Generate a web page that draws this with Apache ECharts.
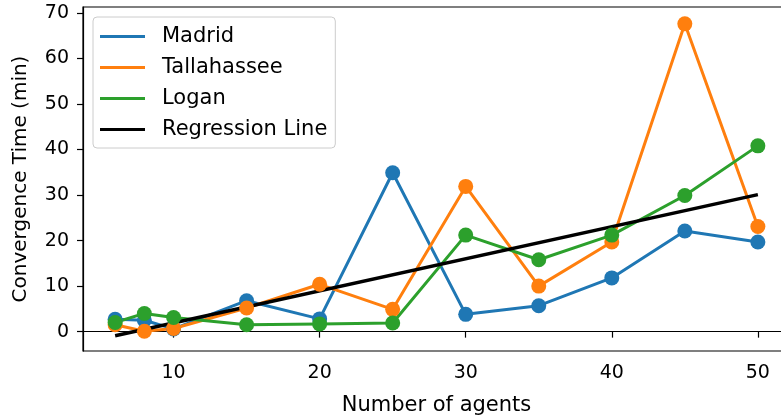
<!DOCTYPE html>
<html>
<head>
<meta charset="utf-8">
<script src="https://cdn.jsdelivr.net/npm/echarts@6/dist/echarts.min.js"></script>
<style>html,body{margin:0;padding:0;background:#fff;}#c{width:781px;height:418px;}</style>
</head>
<body>
<div id="c"></div>
<script>
const agents = [6, 8, 10, 15, 20, 25, 30, 35, 40, 45, 50];
const madrid = [2.7, 2.5, 0.6, 6.8, 2.8, 34.9, 3.8, 5.7, 11.8, 22.1, 19.7];
const tallahassee = [1.5, 0.1, 0.7, 5.2, 10.4, 4.9, 31.9, 10.0, 19.7, 67.6, 23.1];
const logan = [2.0, 4.0, 3.1, 1.5, 1.7, 1.9, 21.2, 15.8, 21.2, 29.9, 40.8];
const regX = [6, 50];
const regY = [-0.9, 30.1];
const xTicks = [10, 20, 30, 40, 50];
const yTicks = [0, 10, 20, 30, 40, 50, 60, 70];

const font = 'DejaVu Sans';
const pairs = (xs, ys) => xs.map((x, i) => [x, ys[i]]);
const lineSeries = (name, ys, color) => ({
  name, type: 'line', data: pairs(agents, ys), symbol: 'circle', symbolSize: 15,
  lineStyle: { color, width: 3 }, itemStyle: { color }, emphasis: { disabled: true }
});

const chart = echarts.init(document.getElementById('c'), null, { renderer: 'canvas' });
chart.setOption({
  animation: false,
  backgroundColor: '#fff',
  grid: { left: 83, top: 7, right: -9, bottom: 67, outerBoundsMode: 'none', containLabel: false,
          show: true, borderColor: '#000', borderWidth: 1.2, backgroundColor: 'transparent' },
  legend: {
    orient: 'vertical', left: 93, top: 17,
    borderColor: '#cccccc', borderWidth: 1, borderRadius: 4,
    padding: [9, 8, 8, 7], itemWidth: 45, itemHeight: 3, itemGap: 10,
    backgroundColor: 'rgba(255,255,255,0.8)',
    textStyle: { fontFamily: font, fontSize: 21, color: '#000', padding: [0, 0, 0, 12], lineHeight: 21 },
    data: [
      { name: 'Madrid', icon: 'rect' },
      { name: 'Tallahassee', icon: 'rect' },
      { name: 'Logan', icon: 'rect' },
      { name: 'Regression Line', icon: 'rect' }
    ]
  },
  xAxis: {
    type: 'value', min: 3.8, max: 52.2,
    name: 'Number of agents', nameLocation: 'middle', nameGap: 44,
    nameTextStyle: { fontFamily: font, fontSize: 21, color: '#000' },
    axisLine: { show: true, lineStyle: { color: '#000', width: 1.2 } },
    axisTick: { show: true, length: 6, lineStyle: { color: '#000', width: 1.2 }, customValues: xTicks },
    axisLabel: { fontFamily: font, fontSize: 19, color: '#000', margin: 13, customValues: xTicks },
    splitLine: { show: false }
  },
  yAxis: {
    type: 'value', min: -4.25, max: 71.3,
    name: 'Convergence Time (min)', nameLocation: 'middle', nameGap: 52,
    nameTextStyle: { fontFamily: font, fontSize: 20, color: '#000' },
    axisLine: { show: true, lineStyle: { color: '#000', width: 1.2 } },
    axisTick: { show: true, length: 6, lineStyle: { color: '#000', width: 1.2 }, customValues: yTicks },
    axisLabel: { fontFamily: font, fontSize: 19, color: '#000', margin: 14, customValues: yTicks },
    splitLine: { show: false }
  },
  series: [
    lineSeries('Madrid', madrid, '#1f77b4'),
    lineSeries('Tallahassee', tallahassee, '#ff7f0e'),
    lineSeries('Logan', logan, '#2ca02c'),
    {
      name: 'Regression Line', type: 'line', data: pairs(regX, regY), symbol: 'none',
      lineStyle: { color: '#000', width: 3.5 }, itemStyle: { color: '#000' }, emphasis: { disabled: true }
    }
  ]
});
</script>
</body>
</html>
